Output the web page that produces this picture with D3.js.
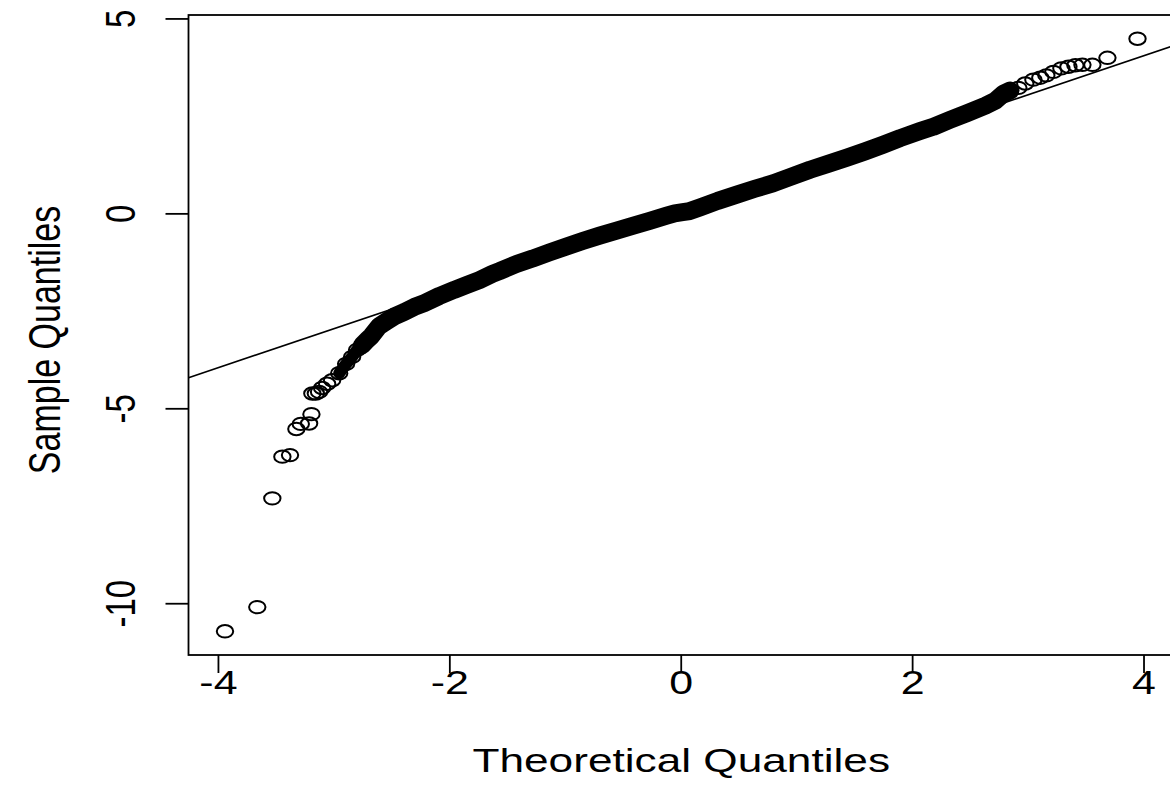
<!DOCTYPE html>
<html>
<head>
  <meta charset="UTF-8">
  <style>
    body {
      margin: 0;
      background-color: white;
    }
    svg {
      display: block;
      font-family: "Liberation Sans", Arial, sans-serif;
    }
    .ring {
      fill: none;
      stroke: black;
      stroke-width: 2;
    }
  </style>
</head>
<body>

<svg></svg>
<script src="https://d3js.org/d3.v7.min.js"></script>

<script>
// Lower tail: the few isolated points on the far left
let lowTheo   = [-3.939, -3.660, -3.530, -3.443, -3.377, -3.322, -3.284, -3.212, -3.192, -3.184, -3.154, -3.126];
let lowSample = [-10.72, -10.10, -7.31, -6.24, -6.20, -5.53, -5.40, -5.39, -5.15, -4.62, -4.62, -4.58];

// Main body of the sample (dense band)
let bodyTheo = [-3.100, -3.056, -3.013, -2.952, -2.892, -2.840, -2.797, -2.753, -2.710, -2.675,
  -2.606, -2.537, -2.468, -2.390, -2.303, -2.216, -2.087, -1.957, -1.853, -1.740,
  -1.628, -1.567, -1.420, -1.281, -1.134, -0.987, -0.848, -0.701, -0.554, -0.416,
  -0.268, -0.121, -0.052, 0.017, 0.078, 0.165, 0.320, 0.485, 0.641, 0.797,
  0.961, 1.117, 1.273, 1.437, 1.593, 1.749, 1.896, 2.069, 2.182, 2.329,
  2.476, 2.632, 2.719, 2.788, 2.848];
let bodySample = [-4.48, -4.37, -4.28, -4.10, -3.86, -3.68, -3.50, -3.38, -3.25, -3.15,
  -2.89, -2.76, -2.63, -2.53, -2.40, -2.30, -2.12, -1.96, -1.84, -1.71,
  -1.55, -1.48, -1.30, -1.16, -1.00, -0.85, -0.71, -0.57, -0.44, -0.32,
  -0.19, -0.06, 0.00, 0.03, 0.06, 0.15, 0.32, 0.48, 0.63, 0.77,
  0.95, 1.12, 1.27, 1.43, 1.59, 1.76, 1.93, 2.11, 2.22, 2.40,
  2.57, 2.76, 2.89, 3.07, 3.15];

// Upper tail
let highTheo   = [2.918, 2.978, 3.048, 3.108, 3.160, 3.221, 3.290, 3.351, 3.411, 3.472, 3.558, 3.688, 3.948];
let highSample = [3.22, 3.33, 3.43, 3.48, 3.54, 3.63, 3.72, 3.76, 3.80, 3.81, 3.81, 3.99, 4.48];

// Reference line through the quartiles
let lineIntercept = 0.04, lineSlope = 1.0;

let xTicks = [-4, -2, 0, 2, 4];
let yTicks = [-10, -5, 0, 5];

let width = 1170, height = 801;
let plot = { left: 188.5, right: 1174, top: 15, bottom: 655 };
let stretch = 1.3; // glyphs are wider than tall

let svg = d3.select("svg")
    .attr("width", width)
    .attr("height", height);

let points = [];
lowTheo.forEach((t, i) => points.push([t, lowSample[i]]));
bodyTheo.forEach((t, i) => points.push([t, bodySample[i]]));
highTheo.forEach((t, i) => points.push([t, highSample[i]]));

// R style: data range padded by 4% on each side
function padded(ext) {
  let pad = (ext[1] - ext[0]) * 0.04;
  return [ext[0] - pad, ext[1] + pad];
}

let x = d3.scaleLinear()
    .domain(padded(d3.extent(points, d => d[0])))
    .range([plot.left, plot.right]);

let y = d3.scaleLinear()
    .domain(padded(d3.extent(points, d => d[1])))
    .range([plot.bottom, plot.top]);

svg.append("clipPath")
    .attr("id", "plot-clip")
  .append("rect")
    .attr("x", plot.left)
    .attr("y", plot.top)
    .attr("width", plot.right - plot.left)
    .attr("height", plot.bottom - plot.top);

// Dense part of the sample is drawn as a thick stroke under the rings
let denseStart = 3, denseEnd = bodyTheo.length - 1;
let dense = bodyTheo.slice(denseStart, denseEnd + 1).map((t, i) => [t, bodySample[denseStart + i]]);

let line = d3.line().x(d => x(d[0])).y(d => y(d[1]));

// thinner at the lower bend where the rings still show through
svg.append("path")
    .datum(dense.slice(0, 6))
    .attr("d", line)
    .attr("fill", "none")
    .attr("stroke", "black")
    .attr("stroke-width", 12)
    .attr("stroke-linejoin", "round")
    .attr("stroke-linecap", "round");

svg.append("path")
    .datum(dense.slice(4))
    .attr("d", line)
    .attr("fill", "none")
    .attr("stroke", "black")
    .attr("stroke-width", 18)
    .attr("stroke-linejoin", "round")
    .attr("stroke-linecap", "round");

// Open circles for every point
svg.append("g")
    .selectAll("ellipse")
    .data(points)
    .enter()
    .append("ellipse")
    .attr("class", "ring")
    .attr("cx", d => x(d[0]))
    .attr("cy", d => y(d[1]))
    .attr("rx", 8.2)
    .attr("ry", 6.2);

// qqline
let xd = x.domain();
svg.append("line")
    .attr("clip-path", "url(#plot-clip)")
    .attr("x1", x(xd[0]))
    .attr("y1", y(lineIntercept + lineSlope * xd[0]))
    .attr("x2", x(xd[1]))
    .attr("y2", y(lineIntercept + lineSlope * xd[1]))
    .attr("stroke", "black")
    .attr("stroke-width", 1.6);

// Plot frame
svg.append("rect")
    .attr("x", plot.left)
    .attr("y", plot.top)
    .attr("width", plot.right - plot.left)
    .attr("height", plot.bottom - plot.top)
    .attr("fill", "none")
    .attr("stroke", "black")
    .attr("stroke-width", 1.8);

let fmt = d => String(d);

// Bottom axis
let xAxis = svg.append("g")
    .attr("transform", `translate(0, ${plot.bottom})`)
    .call(d3.axisBottom(x).tickValues(xTicks).tickSize(18).tickFormat(fmt));

xAxis.select(".domain").remove();
xAxis.selectAll("line").attr("stroke-width", 1.8);
xAxis.selectAll("text")
    .attr("y", 16)
    .attr("dy", "0.71em")
    .attr("transform", `scale(${stretch},1)`)
    .style("font-size", "33px")
    .style("font-family", "'Liberation Sans', Arial, sans-serif")
    .attr("fill", "black");

// Left axis, labels rotated
let yAxis = svg.append("g")
    .attr("transform", `translate(${plot.left}, 0)`)
    .call(d3.axisLeft(y).tickValues(yTicks).tickSize(23).tickFormat(fmt));

yAxis.select(".domain").remove();
yAxis.selectAll("line").attr("stroke-width", 1.8);
yAxis.selectAll("text")
    .attr("x", 0)
    .attr("y", 0)
    .attr("dy", "0.36em")
    .attr("text-anchor", "middle")
    .attr("transform", `translate(${120 - plot.left}, 0) scale(${stretch},1) rotate(-90)`)
    .style("font-size", "33px")
    .style("font-family", "'Liberation Sans', Arial, sans-serif")
    .attr("fill", "black");

// Axis titles
svg.append("text")
    .attr("transform", `translate(${(plot.left + plot.right) / 2}, 772) scale(${stretch},1)`)
    .attr("text-anchor", "middle")
    .style("font-size", "34px")
    .text("Theoretical Quantiles");

svg.append("text")
    .attr("transform", `translate(44, 340) scale(${stretch},1) rotate(-90)`)
    .attr("text-anchor", "middle")
    .attr("dy", "0.36em")
    .style("font-size", "34px")
    .text("Sample Quantiles");
</script>

</body>
</html>
